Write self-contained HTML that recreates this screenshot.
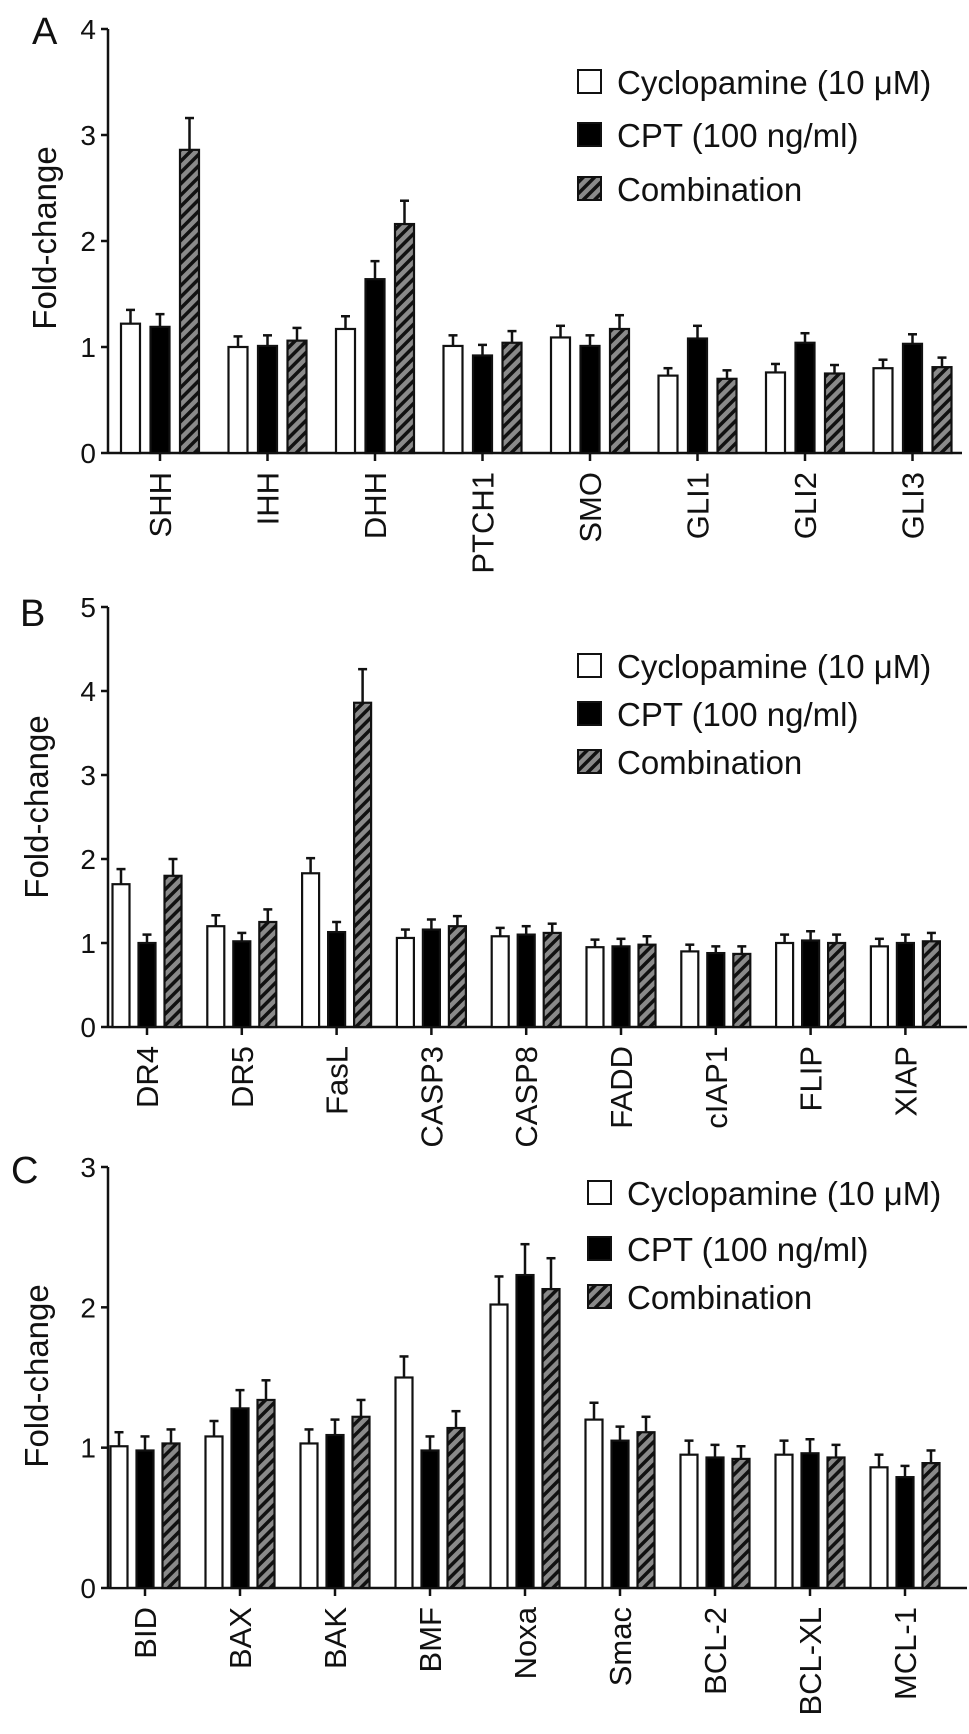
<!DOCTYPE html>
<html><head><meta charset="utf-8"><style>
body{margin:0;background:#fff;}
svg{display:block;font-family:"Liberation Sans",Arial,sans-serif;}
</style></head><body>
<svg id="fig" width="969" height="1734" viewBox="0 0 969 1734">
<defs>
<pattern id="hatch" patternUnits="userSpaceOnUse" width="8" height="8" patternTransform="rotate(45)">
<rect width="8" height="8" fill="#8a8a8a"/><rect width="3.5" height="8" fill="#111"/>
</pattern>
</defs>
</svg>
<script>
const seriesNames=["Cyclopamine (10 \u03bcM)","CPT (100 ng/ml)","Combination"];
const catsA=["SHH","IHH","DHH","PTCH1","SMO","GLI1","GLI2","GLI3"];
const cycA=[1.22,1.0,1.17,1.01,1.09,0.73,0.76,0.80];
const cptA=[1.19,1.01,1.64,0.92,1.01,1.08,1.04,1.03];
const comA=[2.86,1.06,2.16,1.04,1.17,0.70,0.75,0.81];
const cycErrA=[0.13,0.1,0.12,0.1,0.11,0.07,0.08,0.08];
const cptErrA=[0.12,0.1,0.17,0.1,0.1,0.12,0.09,0.09];
const comErrA=[0.3,0.12,0.22,0.11,0.13,0.08,0.08,0.09];
const ticksA=[0,1,2,3,4];
const catsB=["DR4","DR5","FasL","CASP3","CASP8","FADD","cIAP1","FLIP","XIAP"];
const cycB=[1.70,1.20,1.83,1.06,1.08,0.95,0.90,1.0,0.96];
const cptB=[1.0,1.02,1.13,1.16,1.10,0.96,0.88,1.03,1.0];
const comB=[1.80,1.25,3.86,1.20,1.12,0.98,0.87,1.0,1.02];
const cycErrB=[0.18,0.13,0.18,0.1,0.1,0.09,0.08,0.1,0.09];
const cptErrB=[0.1,0.1,0.12,0.12,0.1,0.09,0.08,0.11,0.1];
const comErrB=[0.2,0.15,0.4,0.12,0.11,0.1,0.09,0.1,0.1];
const ticksB=[0,1,2,3,4,5];
const catsC=["BID","BAX","BAK","BMF","Noxa","Smac","BCL-2","BCL-XL","MCL-1"];
const cycC=[1.01,1.08,1.03,1.50,2.02,1.20,0.95,0.95,0.86];
const cptC=[0.98,1.28,1.09,0.98,2.23,1.05,0.93,0.96,0.79];
const comC=[1.03,1.34,1.22,1.14,2.13,1.11,0.92,0.93,0.89];
const cycErrC=[0.1,0.11,0.1,0.15,0.2,0.12,0.1,0.1,0.09];
const cptErrC=[0.1,0.13,0.11,0.1,0.22,0.1,0.09,0.1,0.08];
const comErrC=[0.1,0.14,0.12,0.12,0.22,0.11,0.09,0.09,0.09];
const ticksC=[0,1,2,3];

const NS="http://www.w3.org/2000/svg";
const svg=document.getElementById('fig');
function el(tag,attrs,parent){const e=document.createElementNS(NS,tag);for(const k in attrs)e.setAttribute(k,attrs[k]);(parent||svg).appendChild(e);return e;}

function panel(cfg){
  const g=el('g',{});
  
  
  const y=v=>cfg.y0-(v/cfg.ymax)*(cfg.y0-cfg.ytop);
  const xc=i=>cfg.x1+cfg.spacing*i;
  const pl=el('text',{x:cfg.letterX,y:cfg.letterY,'font-size':38,fill:'#111'},g);pl.textContent=cfg.letter;
  
  
  const yt=el('text',{x:0,y:0,'font-size':33,fill:'#111','text-anchor':'middle',transform:`translate(${cfg.titleX},${cfg.titleY}) rotate(-90)`},g);yt.textContent='Fold-change';
  
  
  const ya=el('line',{x1:108,x2:108,y1:cfg.ytop,y2:cfg.y0,stroke:'#111','stroke-width':2.5},g);
  
  
  const xa=el('line',{x1:108,x2:cfg.xEnd,y1:cfg.y0,y2:cfg.y0,stroke:'#111','stroke-width':2.5},g);
  
  
  cfg.ticks.forEach(t=>{
    el('line',{x1:101,x2:108,y1:y(t),y2:y(t),stroke:'#111','stroke-width':2.5},g);
    const tl=el('text',{x:96,y:y(t)+10,'font-size':28,'text-anchor':'end',fill:'#111'},g);tl.textContent=t;
    
    
  });
  const series=[cfg.cyc,cfg.cpt,cfg.com], errs=[cfg.cycErr,cfg.cptErr,cfg.comErr];
  const fills=['#fff','#000','url(#hatch)'];
  cfg.cats.forEach((c,i)=>{
    const cx=xc(i);
    el('line',{x1:cx,x2:cx,y1:cfg.y0,y2:cfg.y0+8,stroke:'#111','stroke-width':2.5},g);
    const lab=el('text',{x:0,y:0,'font-size':31,'text-anchor':'end',fill:'#111',transform:`translate(${cx+11},${cfg.y0+19}) rotate(-90)`},g);lab.textContent=c;
    
    
    for(let s=0;s<3;s++){
      const bx=cx+(s-1)*cfg.off-cfg.bw/2, v=series[s][i], e=errs[s][i];
      const top=y(v+e);
      const eb=el('line',{x1:bx+cfg.bw/2,x2:bx+cfg.bw/2,y1:y(v),y2:top,stroke:'#111','stroke-width':2.5},g);
      
      
      el('line',{x1:bx+cfg.bw/2-4.5,x2:bx+cfg.bw/2+4.5,y1:top,y2:top,stroke:'#111','stroke-width':2.5},g);
      const r=el('rect',{x:bx,y:y(v),width:cfg.bw,height:cfg.y0-y(v),fill:fills[s],stroke:'#111','stroke-width':2.2},g);
      
      
    }
  });
  seriesNames.forEach((n,s)=>{
    const ly=cfg.legY[s];
    const lb=el('rect',{x:cfg.legX,y:ly-12,width:23,height:23,fill:fills[s],stroke:'#111','stroke-width':2},g);
    
    
    const lt=el('text',{x:cfg.legX+39,y:ly+12,'font-size':33,fill:'#111'},g);lt.textContent=n;
    
    
  });
}
panel({letter:'A',letterX:32,letterY:44,titleX:56,titleY:238,y0:453,ytop:29,ymax:4,ticks:ticksA,xEnd:962,x1:160,spacing:107.5,bw:19,off:29.5,
  cats:catsA,cyc:cycA,cpt:cptA,com:comA,cycErr:cycErrA,cptErr:cptErrA,comErr:comErrA,legX:578,legY:[82,135,189]});
panel({letter:'B',letterX:20,letterY:626,titleX:48,titleY:807,y0:1027,ytop:607,ymax:5,ticks:ticksB,xEnd:967,x1:147,spacing:94.8,bw:17,off:26,
  cats:catsB,cyc:cycB,cpt:cptB,com:comB,cycErr:cycErrB,cptErr:cptErrB,comErr:comErrB,legX:578,legY:[666,714,762]});
panel({letter:'C',letterX:11,letterY:1183,titleX:48,titleY:1376,y0:1588,ytop:1167,ymax:3,ticks:ticksC,xEnd:967,x1:145,spacing:95,bw:17,off:26,
  cats:catsC,cyc:cycC,cpt:cptC,com:comC,cycErr:cycErrC,cptErr:cptErrC,comErr:comErrC,legX:588,legY:[1193,1249,1297]});
</script>
</body></html>
